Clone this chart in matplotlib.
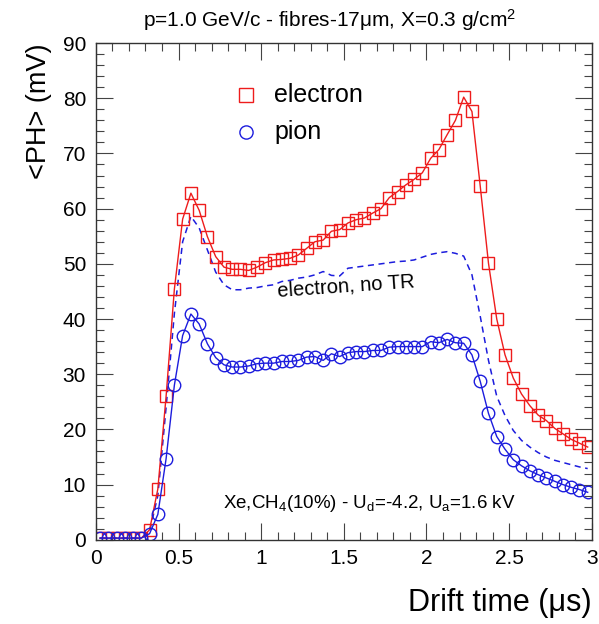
import matplotlib
matplotlib.use('Agg')
import matplotlib.pyplot as plt
from matplotlib.ticker import MultipleLocator
import numpy as np

plt.rcParams['font.family'] = ['Liberation Sans', 'DejaVu Sans']
plt.rcParams['mathtext.fontset'] = 'custom'
plt.rcParams['mathtext.rm'] = 'Liberation Sans'
plt.rcParams['mathtext.it'] = 'Liberation Sans:italic'

# drift time bins (us), centres
t = np.arange(60) * 0.05 + 0.025

electron = [0.3, 0.3, 0.3, 0.3, 0.3, 0.3, 1.8, 9.2, 26.0, 45.4,
            58.1, 62.8, 59.7, 54.9, 51.3, 49.4, 49.0, 49.0, 48.8, 49.4,
            50.2, 50.7, 50.8, 51.0, 51.6, 52.8, 54.0, 54.3, 55.9, 56.2,
            57.4, 58.0, 58.3, 59.2, 60.0, 62.0, 63.1, 64.3, 65.3, 66.5,
            69.1, 70.7, 73.4, 76.0, 80.2, 77.6, 64.1, 50.1, 40.0, 33.5,
            29.3, 26.4, 24.3, 22.6, 21.6, 20.2, 19.2, 18.2, 17.5, 16.8]

pion = [0.3, 0.3, 0.3, 0.3, 0.3, 0.3, 1.1, 4.6, 14.7, 28.0,
        37.0, 40.9, 39.1, 35.5, 33.0, 31.7, 31.3, 31.3, 31.5, 31.9,
        32.0, 32.0, 32.3, 32.3, 32.5, 33.1, 33.2, 32.5, 33.7, 33.2,
        33.9, 34.1, 34.1, 34.3, 34.3, 34.9, 35.0, 35.0, 35.0, 35.0,
        35.9, 35.7, 36.3, 35.7, 35.6, 33.5, 28.7, 22.9, 18.7, 16.4,
        14.5, 13.4, 12.5, 11.8, 11.2, 10.6, 10.0, 9.5, 9.1, 8.6]

electron_noTR = [0.3, 0.3, 0.3, 0.3, 0.3, 0.3, 1.5, 8.0, 24.0, 41.0,
                 54.0, 58.6, 56.5, 52.5, 48.5, 46.2, 45.3, 45.3, 45.6, 45.7,
                 46.0, 46.2, 46.8, 47.0, 47.4, 47.6, 48.0, 48.6, 47.9, 47.8,
                 49.2, 49.4, 49.6, 49.8, 50.0, 50.2, 50.4, 50.5, 50.7, 51.2,
                 51.7, 52.0, 52.2, 51.9, 51.4, 48.0, 40.5, 32.5, 26.0, 22.5,
                 19.8, 18.0, 16.8, 15.8, 15.0, 14.4, 14.0, 13.6, 13.2, 12.9]

red = '#ee1c1c'
blue = '#1c1cdd'

fig = plt.figure(figsize=(5.99, 6.24), dpi=100)
ax = fig.add_axes([0.160, 0.135, 0.828, 0.796])

ax.plot(t, electron_noTR, color=blue, lw=1.1, ls=(0, (4, 3)))
ax.plot(t, electron, color=red, lw=1.0, marker='s', ms=9, mfc='none',
        mec=red, mew=1.0)
ax.plot(t, pion, color=blue, lw=1.0, marker='o', ms=9, mfc='none',
        mec=blue, mew=1.0)

ax.set_xlim(0, 3)
ax.set_ylim(0, 90)
ax.xaxis.set_major_locator(MultipleLocator(0.5))
ax.xaxis.set_minor_locator(MultipleLocator(0.1))
ax.yaxis.set_major_locator(MultipleLocator(10))
ax.yaxis.set_minor_locator(MultipleLocator(2))
ax.set_xticks([0, 0.5, 1, 1.5, 2, 2.5, 3])
ax.set_xticklabels(['0', '0.5', '1', '1.5', '2', '2.5', '3'])
ax.tick_params(which='both', direction='in', top=True, right=True,
               labelsize=15, width=0.8, color='#444444')
ax.tick_params(which='major', length=12, pad=7)
ax.tick_params(which='minor', length=6)
for s in ax.spines.values():
    s.set_linewidth(1.0)
    s.set_color('#333333')

ax.set_xlabel('Drift time (μs)', fontsize=22, loc='right', labelpad=14)
ax.set_ylabel('<PH> (mV)', fontsize=19.5, loc='top', labelpad=8)

fig.text(0.55, 0.968, 'p=1.0 GeV/c - fibres-17μm, X=0.3 g/cm$^2$',
         fontsize=15, ha='center', va='center')

# legend drawn by hand, ROOT style
ax.plot([0.908], [80.6], marker='s', ms=9.5, mfc='none', mec=red, mew=1.0, ls='none')
ax.text(1.08, 80.6, 'electron', fontsize=18, va='center')
ax.plot([0.908], [73.9], marker='o', ms=9.5, mfc='none', mec=blue, mew=1.0, ls='none')
ax.text(1.08, 73.9, 'pion', fontsize=18, va='center')

ax.text(1.515, 46.0, 'electron, no TR', fontsize=14.5, ha='center', va='center',
        rotation=4)
ax.text(1.655, 6.6, r'Xe,CH$_4$(10%) - U$_\mathrm{d}$=-4.2, U$_\mathrm{a}$=1.6 kV',
        fontsize=13.5, ha='center', va='center')

fig.savefig('out.png', dpi=100)
